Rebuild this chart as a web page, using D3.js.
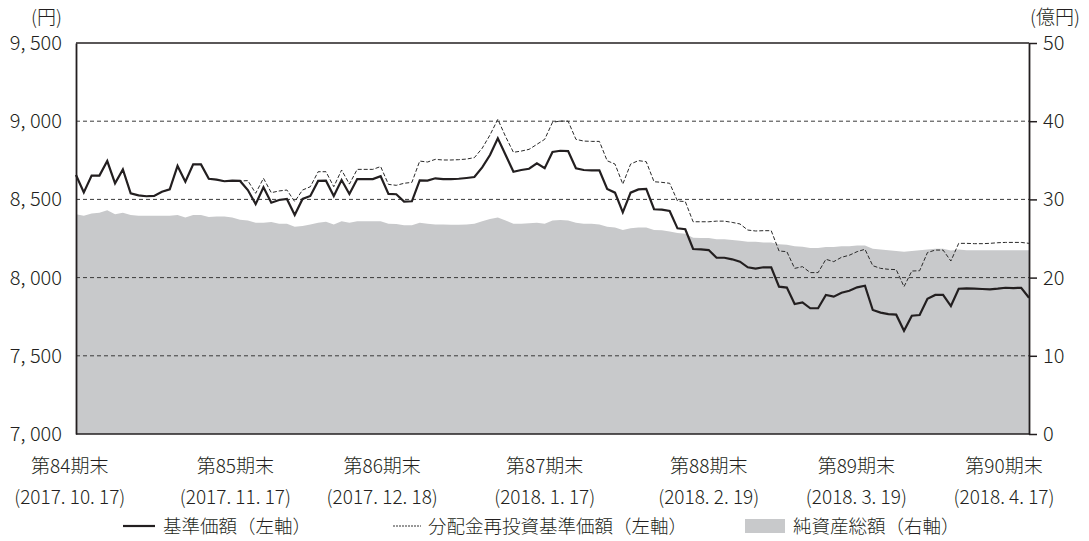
<!DOCTYPE html>
<html>
<head>
<meta charset="utf-8">
<script src="https://cdnjs.cloudflare.com/ajax/libs/d3/7.8.5/d3.min.js"></script>
<style>
body { margin: 0; background: #fff; }
text { font-family: "Noto Sans CJK JP", sans-serif; font-weight: 300; fill: #231f20; }
</style>
</head>
<body>
<div id="chart"></div>
<script>
// 基準価額 (円) - one value per business day, 2017.10.17 -> 2018.4.17
var navValues = [
  8656, 8545, 8652, 8652, 8745, 8603, 8692, 8539, 8526, 8520,
  8522, 8549, 8564, 8714, 8613, 8724, 8724, 8632, 8626, 8616,
  8620, 8618, 8560, 8470, 8577, 8479, 8496, 8503, 8400, 8503,
  8522, 8618, 8620, 8522, 8624, 8535, 8630, 8630, 8630, 8648,
  8535, 8533, 8486, 8488, 8622, 8620, 8635, 8630, 8630, 8632,
  8637, 8643, 8705, 8784, 8891, 8784, 8677, 8688, 8696, 8731,
  8699, 8803, 8811, 8809, 8699, 8688, 8686, 8686, 8567, 8543,
  8417, 8543, 8564, 8567, 8437, 8435, 8426, 8315, 8309, 8183,
  8181, 8176, 8127, 8127, 8117, 8102, 8066, 8057, 8066, 8066,
  7942, 7936, 7831, 7842, 7804, 7804, 7889, 7878, 7903, 7916,
  7938, 7948, 7793, 7776, 7767, 7763, 7660, 7756, 7761, 7865,
  7889, 7889, 7818, 7929, 7931, 7929, 7927, 7925, 7929, 7935,
  7933, 7935, 7871
];

// 分配金再投資基準価額 (円)
var reinvestValues = [
  8656, 8545, 8652, 8652, 8745, 8603, 8692, 8539, 8526, 8520,
  8522, 8549, 8564, 8714, 8613, 8724, 8724, 8632, 8626, 8616,
  8620, 8618, 8620, 8539, 8635, 8543, 8554, 8560, 8486, 8560,
  8581, 8677, 8677, 8581, 8688, 8598, 8692, 8692, 8692, 8710,
  8596, 8590, 8603, 8609, 8745, 8739, 8756, 8752, 8752, 8754,
  8758, 8767, 8827, 8912, 9012, 8901, 8801, 8809, 8820, 8852,
  8884, 8993, 9001, 9000, 8884, 8873, 8871, 8871, 8747, 8726,
  8598, 8726, 8748, 8741, 8613, 8609, 8603, 8490, 8486, 8357,
  8357, 8357, 8361, 8361, 8353, 8343, 8304, 8298, 8300, 8300,
  8170, 8166, 8059, 8070, 8032, 8032, 8117, 8102, 8130, 8143,
  8166, 8181, 8076, 8059, 8053, 8051, 7942, 8042, 8044, 8160,
  8176, 8176, 8106, 8219, 8219, 8217, 8217, 8219, 8223, 8225,
  8225, 8225, 8219
];

// 純資産総額 (億円)
var assetValues = [
  28.1, 27.9, 28.2, 28.3, 28.6, 28.1, 28.3, 28.0, 27.9, 27.9,
  27.9, 27.9, 27.9, 28.0, 27.7, 28.0, 28.0, 27.75, 27.8, 27.8,
  27.7, 27.4, 27.3, 27.0, 27.0, 27.1, 26.9, 26.9, 26.5, 26.6,
  26.8, 27.0, 27.15, 26.8, 27.2, 27.0, 27.2, 27.2, 27.2, 27.2,
  26.9, 26.85, 26.7, 26.7, 27.0, 26.9, 26.8, 26.8, 26.75, 26.75,
  26.8, 26.9, 27.2, 27.5, 27.7, 27.3, 26.9, 26.9, 26.95, 27.0,
  26.9, 27.3, 27.35, 27.3, 27.0, 26.9, 26.9, 26.8, 26.5, 26.4,
  26.1, 26.3, 26.4, 26.4, 26.1, 26.05, 25.9, 25.7, 25.6, 25.1,
  25.05, 25.05, 24.9, 24.9, 24.8, 24.7, 24.6, 24.6, 24.5, 24.5,
  24.25, 24.2, 24.0, 23.95, 23.8, 23.8, 23.9, 23.9, 24.0, 24.0,
  24.1, 24.1, 23.7, 23.6, 23.5, 23.4, 23.3, 23.4, 23.5, 23.6,
  23.7, 23.7, 23.45, 23.6, 23.5, 23.5, 23.5, 23.5, 23.5, 23.5,
  23.5, 23.5, 23.5
];

var periodNames = ["第84期末", "第85期末", "第86期末", "第87期末", "第88期末", "第89期末", "第90期末"];
var periodDates = ["(2017. 10. 17)", "(2017. 11. 17)", "(2017. 12. 18)", "(2018. 1. 17)", "(2018. 2. 19)", "(2018. 3. 19)", "(2018. 4. 17)"];
var periodLabelPos = [-0.8, 20.4, 39.2, 60, 81, 99.9, 118.8];

var leftTicks = [7000, 7500, 8000, 8500, 9000, 9500];
var rightTicks = [0, 10, 20, 30, 40, 50];

var legendNames = ["基準価額（左軸）", "分配金再投資基準価額（左軸）", "純資産総額（右軸）"];

var width = 1089, height = 541;
var plotLeft = 76, plotRight = 1029, plotTop = 43, plotBottom = 434;
var ink = "#231f20";

var svg = d3.select("#chart")
    .append("svg")
    .attr("width", width)
    .attr("height", height);

var x = d3.scaleLinear().domain([0, navValues.length - 1]).range([plotLeft, plotRight]);
var yL = d3.scaleLinear().domain([7000, 9500]).range([plotBottom, plotTop]);
var yR = d3.scaleLinear().domain([0, 50]).range([plotBottom, plotTop]);

/* net assets area (right axis) */
var area = d3.area()
    .x(function (d, i) { return x(i); })
    .y0(yR(0))
    .y1(function (d) { return yR(d); });

svg.append("path")
    .datum(assetValues)
    .attr("d", area)
    .attr("fill", "#c8c9cb");

/* dashed grid lines */
svg.append("g")
    .selectAll("line")
    .data(leftTicks.filter(function (d) { return d > 7000 && d < 9500; }))
    .enter().append("line")
    .attr("x1", plotLeft)
    .attr("x2", plotRight)
    .attr("y1", function (d) { return yL(d); })
    .attr("y2", function (d) { return yL(d); })
    .attr("stroke", "#3a3a3a")
    .attr("stroke-width", 1)
    .attr("stroke-dasharray", "4,3");

var line = d3.line()
    .x(function (d, i) { return x(i); })
    .y(function (d) { return yL(d); });

svg.append("path")
    .datum(reinvestValues)
    .attr("d", line)
    .attr("fill", "none")
    .attr("stroke", "#2a2a2a")
    .attr("stroke-width", 1)
    .attr("stroke-dasharray", "4,2");

svg.append("path")
    .datum(navValues)
    .attr("d", line)
    .attr("fill", "none")
    .attr("stroke", ink)
    .attr("stroke-width", 2.2)
    .attr("stroke-linejoin", "miter");

/* frame */
svg.append("line")
    .attr("x1", plotLeft).attr("x2", plotRight)
    .attr("y1", plotTop).attr("y2", plotTop)
    .attr("stroke", ink).attr("stroke-width", 1.5);
svg.append("line")
    .attr("x1", plotLeft).attr("x2", plotRight)
    .attr("y1", plotBottom).attr("y2", plotBottom)
    .attr("stroke", ink).attr("stroke-width", 1.5);

function fmtYen(v) {
    return d3.format(",")(v).replace(",", ", ");
}

var axisL = svg.append("g")
    .attr("transform", "translate(" + plotLeft + ",0)")
    .call(d3.axisLeft(yL).tickValues(leftTicks).tickSize(0).tickPadding(14).tickFormat(fmtYen));

var axisR = svg.append("g")
    .attr("transform", "translate(" + plotRight + ",0)")
    .call(d3.axisRight(yR).tickValues(rightTicks).tickSize(8).tickSizeOuter(0).tickPadding(6));

[axisL, axisR].forEach(function (a) {
    a.select(".domain").attr("stroke", ink).attr("stroke-width", 1.8);
    a.selectAll(".tick line").attr("stroke", ink).attr("stroke-width", 1.5);
    a.selectAll("text")
        .style("font-family", '"Noto Sans CJK JP", sans-serif')
        .style("font-weight", "300")
        .style("font-size", "20px")
        .attr("fill", ink);
});

svg.append("text")
    .attr("x", 62).attr("y", 24)
    .attr("text-anchor", "end")
    .style("font-size", "19px")
    .text("(円)");

svg.append("text")
    .attr("x", 1080).attr("y", 24)
    .attr("text-anchor", "end")
    .style("font-size", "19px")
    .text("(億円)");

/* period labels under the x axis */
var periods = svg.append("g")
    .selectAll("g")
    .data(periodNames)
    .enter().append("g")
    .attr("transform", function (d, i) { return "translate(" + x(periodLabelPos[i]) + ",0)"; });

periods.append("text")
    .attr("y", 473)
    .attr("text-anchor", "middle")
    .style("font-size", "19px")
    .text(function (d) { return d; });

periods.append("text")
    .attr("y", 504)
    .attr("text-anchor", "middle")
    .style("font-size", "19px")
    .text(function (d, i) { return periodDates[i]; });

/* legend */
var legendX = [123, 393, 745];
var legend = svg.append("g")
    .selectAll("g")
    .data(legendNames)
    .enter().append("g")
    .attr("transform", function (d, i) { return "translate(" + legendX[i] + ",526)"; });

legend.each(function (d, i) {
    var g = d3.select(this);
    if (i == 0) {
        g.append("line").attr("x1", 0).attr("x2", 32).attr("y1", 0).attr("y2", 0)
            .attr("stroke", ink).attr("stroke-width", 2.2);
    } else if (i == 1) {
        g.append("line").attr("x1", 0).attr("x2", 28).attr("y1", 0).attr("y2", 0)
            .attr("stroke", "#333").attr("stroke-width", 1).attr("stroke-dasharray", "2,1");
    } else {
        g.append("rect").attr("x", 0).attr("y", -7).attr("width", 40).attr("height", 14)
            .attr("fill", "#c8c9cb");
    }
});

legend.append("text")
    .attr("x", function (d, i) { return [40, 35, 48][i]; })
    .attr("y", 7)
    .style("font-size", "18.5px")
    .text(function (d) { return d; });
</script>
</body>
</html>
